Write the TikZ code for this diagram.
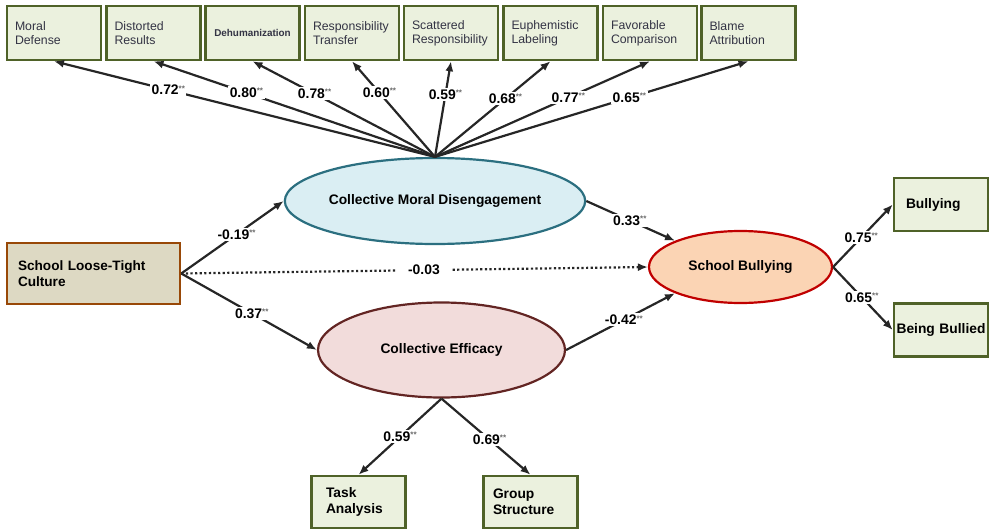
\documentclass[tikz,border=0pt]{standalone}
\usepackage{fontspec}
\setmainfont{Liberation Sans}
\usetikzlibrary{shapes.geometric,arrows.meta}
\definecolor{itemline}{HTML}{4F6228}
\definecolor{itemfill}{HTML}{EBF1DE}
\definecolor{itemtext}{HTML}{333344}
\definecolor{cultline}{HTML}{984807}
\definecolor{cultfill}{HTML}{DDD9C3}
\definecolor{cmdline}{HTML}{2B6F80}
\definecolor{cmdfill}{HTML}{DAEEF3}
\definecolor{celine}{HTML}{632523}
\definecolor{cefill}{HTML}{F2DCDB}
\definecolor{sbline}{HTML}{C00000}
\definecolor{sbfill}{HTML}{FBD4B4}
\definecolor{arrowcol}{HTML}{262626}
\definecolor{starcol}{HTML}{6A6A6A}
\newcommand{\sig}[1]{#1\raisebox{0.5ex}{\color{starcol}\fontsize{8}{8}\selectfont **}}

\begin{document}
\begin{tikzpicture}[x=1pt,y=-1pt,
  >={Latex[length=10pt,width=8pt]},
  path/.style={draw=arrowcol,line width=2.2pt,->},
  item/.style={draw=itemline,fill=itemfill,line width=2.5pt,text=itemtext,
    minimum width=94pt,minimum height=54pt,inner xsep=8pt,text width=78pt,
    align=left,font=\fontsize{12.3}{14}\selectfont},
  obsbox/.style={draw=itemline,fill=itemfill,line width=2.5pt,text=black,
    minimum width=94pt,minimum height=53pt,inner xsep=10pt,text width=74pt,
    font=\fontsize{13.8}{16}\selectfont\bfseries},
  latent/.style={ellipse,line width=2.2pt,inner sep=0pt,text=black,
    font=\fontsize{13.8}{16}\selectfont\bfseries},
  lbl/.style={fill=white,inner sep=1.5pt,text=black,
    font=\fontsize{13.9}{15}\selectfont\bfseries}]
\useasboundingbox (0,0) rectangle (990,530);
\node [item] (v0) at (54,33) {Moral\\Defense};
\node [item] (v1) at (153.5,33) {Distorted\\Results};
\node [item,text width=82pt,inner xsep=6pt,align=center,font=\fontsize{9.9}{12}\selectfont\bfseries] (v2) at (252.5,33) {Dehumanization};
\node [item] (v3) at (352,33) {Responsibility\\Transfer};
\node [item] (v4) at (451,33) {Scattered\\Responsibility};
\node [item] (v5) at (550.5,33) {Euphemistic\\Labeling};
\node [item] (v6) at (650,33) {Favorable\\Comparison};
\node [item] (v7) at (748.5,33) {Blame\\Attribution};
\node [draw=cultline,fill=cultfill,line width=2.5pt,minimum width=173pt,minimum height=61pt,
  inner xsep=11pt,text width=151pt,align=left,font=\fontsize{13.6}{16}\selectfont\bfseries] (v8) at (93.5,273.5) {School Loose-Tight\\Culture};
\node [latent,draw=cmdline,fill=cmdfill,minimum width=246pt,minimum height=86pt] (v9) at (435,201) {Collective Moral Disengagement};
\node [latent,draw=celine,fill=cefill,minimum width=247pt,minimum height=95pt] (v10) at (441.5,350) {Collective Efficacy};
\node [latent,draw=sbline,fill=sbfill,minimum width=183pt,minimum height=72pt] (v11) at (740.5,267) {School Bullying};
\node [obsbox,align=left,inner xsep=12pt,text width=70pt] (v12) at (941,204.5) {Bullying};
\node [obsbox,align=center,inner xsep=2pt,text width=90pt] (v13) at (941,330) {Being Bullied};
\node [obsbox,align=left,minimum height=52pt,inner xsep=14pt,text width=65pt] (v14) at (358.5,502) {Task\\Analysis};
\node [obsbox,align=left,minimum height=52pt,inner xsep=9pt,text width=75pt] (v15) at (530.5,502) {Group\\Structure};
\draw [path] (v9.north) -- node[lbl,pos=0.7] {\sig{0.72}} (v0.south);
\draw [path] (v9.north) -- node[lbl,pos=0.67] {\sig{0.80}} (v1.south);
\draw [path] (v9.north) -- node[lbl,pos=0.66] {\sig{0.78}} (v2.south);
\draw [path] (v9.north) -- node[lbl,pos=0.67] {\sig{0.60}} (v3.south);
\draw [path] (v9.north) -- node[lbl,pos=0.65] {\sig{0.59}} (v4.south);
\draw [path] (v9.north) -- node[lbl,pos=0.61] {\sig{0.68}} (v5.south);
\draw [path] (v9.north) -- node[lbl,pos=0.62] {\sig{0.77}} (v6.south);
\draw [path] (v9.north) -- node[lbl,pos=0.62] {\sig{0.65}} (v7.south);
\draw [path] (v8.east) -- node[lbl,pos=0.54] {\sig{-0.19}} (v9.west);
\draw [path] (v8.east) -- node[lbl,pos=0.52] {\sig{0.37}} (v10.west);
\draw [path,dash pattern=on 2.2pt off 2.4pt] (v8.east) -- node[lbl,pos=0.52,inner xsep=12pt] {-0.03} (v11.west);
\draw [path] (v9.east) -- node[lbl,pos=0.49] {\sig{0.33}} (v11.north west);
\draw [path] (v10.east) -- node[lbl,pos=0.53] {\sig{-0.42}} (v11.south west);
\draw [path] (v11.east) -- node[lbl,pos=0.47] {\sig{0.75}} (v12.west);
\draw [path] (v11.east) -- node[lbl,pos=0.48] {\sig{0.65}} (v13.west);
\draw [path] (v10.south) -- node[lbl,pos=0.5] {\sig{0.59}} (v14.north);
\draw [path] (v10.south) -- node[lbl,pos=0.54] {\sig{0.69}} (v15.north);
\end{tikzpicture}
\end{document}
